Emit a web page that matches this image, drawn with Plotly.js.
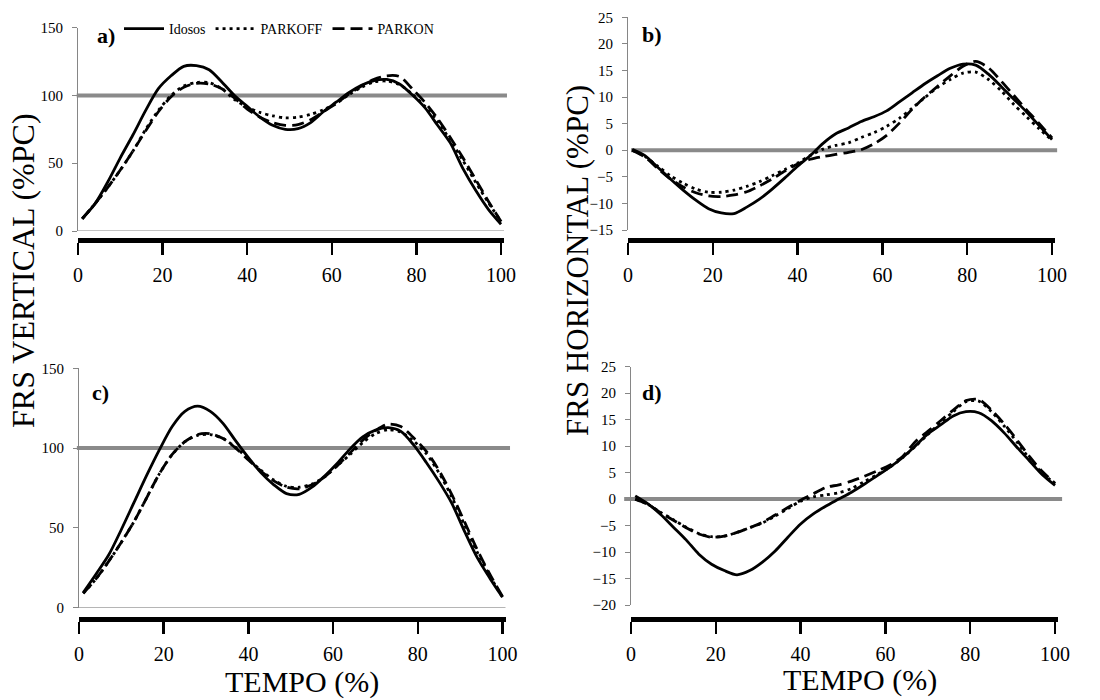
<!DOCTYPE html>
<html>
<head>
<meta charset="utf-8">
<script src="https://cdn.plot.ly/plotly-3.0.1.min.js"></script>
<style>html,body{margin:0;padding:0;background:#fff;}#chart{width:1100px;height:700px;}</style>
</head>
<body>
<div id="chart"></div>
<script>
// ---- data ----
const tempo = [1,4,7,10,13,16,19,22,25,28,31,34,37,40,43,46,49,52,55,58,61,64,67,70,73,76,79,82,85,88,91,94,97,100];
const xTicks = [0,20,40,60,80,100];
const seriesNames = ["Idosos","PARKOFF","PARKON"];

// a) vertical
const aIdosos  = [9.2,20,36,54,71,89,105,114.5,121.5,122,119,110,100,92,84,78,75,75.5,80,88,95,102,107.5,111,111.8,108.5,100.5,91,78,65,46,30,16,5];
const aParkOff = [9,20,32,45,59,75,89,100,107,109.5,109.5,105,97,91.5,87.5,85,83.5,84,86,89.5,94,100.5,106,110,110.6,108,101,92,81,67,52,36,21,7];
const aParkOn  = [9,20,32,45,59,74,88,99,106,109,108.5,105,98,90,84,80,78,78.5,82,88,94,101,107,112,114.5,114,105,95,83,69,54,38,22,7];
// b) horizontal
const bIdosos  = [0.2,-1,-3.2,-5.4,-7.5,-9.4,-11,-11.8,-11.9,-10.7,-9.2,-7.3,-5.2,-3,-1,1.3,3.1,4.2,5.4,6.3,7.4,9.1,10.8,12.5,14,15.4,16.2,16,14.3,12,9.6,7.2,4.6,2];
const bParkOff = [0,-1.2,-3,-4.8,-6.2,-7.3,-7.9,-7.9,-7.5,-6.8,-5.9,-4.8,-3.6,-2.4,-1,0.2,0.9,1.4,2.4,3.3,4.5,6,7.9,9.9,11.8,13.3,14.5,14.7,13.3,11.2,8.6,6.3,4,1.9];
const bParkOn  = [0,-1.3,-3.4,-5.4,-6.9,-8,-8.6,-8.7,-8.4,-7.8,-6.7,-5.4,-3.9,-2.6,-1.7,-1.2,-0.8,-0.4,0.1,1.2,2.8,5.1,7.7,10,12,14,15.8,16.7,15.5,13,10.3,7.6,5,2.3];
// c) vertical
const cIdosos  = [9.5,21,33,49,66,83,99,113.5,123,126.3,123,115.5,104.5,94,84.5,77,71.5,71,75.5,82.5,90.5,99.5,107,111.3,112.8,110.5,102,91,79,65.5,48,31.5,18.5,6.5];
const cParkOff = [9,18,29,41,54,69,84,96,104,108,108.5,106,100.5,93,86,80,76,75.5,77.5,82,89,96,103.5,109,111.5,110,104.5,96.5,84.5,69.5,52,35,20,6.5];
const cParkOn  = [9,18,29,41,54,69,84,96,104,108.5,109,106,100,92.5,85.5,79.5,75.5,74.5,77,82,89,97,105,111,115,113.5,106.5,98,86,71,54,36.5,21,7];
// d) horizontal
const dIdosos  = [0.6,-0.9,-2.9,-5.3,-7.7,-10.4,-12.3,-13.5,-14.3,-13.5,-11.9,-9.8,-7.2,-4.7,-2.8,-1.3,0,1.3,2.8,4.4,6,7.8,10,12.3,14,15.7,16.5,16.3,14.8,12.5,9.8,7.2,4.6,2.6];
const dParkOff = [0,-1,-2.5,-3.9,-5.3,-6.5,-7.1,-7,-6.3,-5.4,-4.5,-3.2,-1.8,-0.4,0.4,0.8,1.2,2,3.3,4.6,6,7.8,9.9,12.2,14.4,16.5,18.4,18.5,16.5,13.8,10.8,7.6,4.9,2.9];
const dParkOn  = [0,-1,-2.6,-4,-5.4,-6.6,-7.2,-7,-6.3,-5.4,-4.4,-3,-1.6,-0.2,1,2.2,2.7,3.4,4.3,5.3,6.4,8,10.8,12.8,14.8,16.8,18.6,18.8,16.8,14.2,11.2,8,5.2,3];

// reference levels (body weight line)
const refVertical = 100;
const refHorizontal = 0;

// ---- helpers ----
const W = 1100, H = 700;
const fx = p => p / W;
const fy = p => 1 - p / H;
const FONT = '"Liberation Serif", "DejaVu Serif", serif';
const GRAY = "#868686";
const REFGRAY = "#8a8a8a";

const styles = [
  {width: 2.8, dash: "solid"},
  {width: 2.8, dash: "3px,4px"},
  {width: 2.8, dash: "12px,6px"}
];

const panels = [
  {ys: [aIdosos, aParkOff, aParkOn], xa: "x",  ya: "y",  legend: true},
  {ys: [bIdosos, bParkOff, bParkOn], xa: "x2", ya: "y2", legend: false},
  {ys: [cIdosos, cParkOff, cParkOn], xa: "x3", ya: "y3", legend: false},
  {ys: [dIdosos, dParkOff, dParkOn], xa: "x4", ya: "y4", legend: false}
];

const traces = [];
panels.forEach(p => {
  p.ys.forEach((y, i) => {
    traces.push({
      type: "scatter", mode: "lines", x: tempo, y: y,
      xaxis: p.xa, yaxis: p.ya, name: seriesNames[i],
      showlegend: p.legend,
      line: {color: "#000", width: styles[i].width, dash: styles[i].dash, shape: "spline", smoothing: 0.8},
      hoverinfo: "x+y"
    });
  });
});

function xAxis(d0, d1, pos) {
  return {
    domain: [fx(d0), fx(d1)], range: [0, 100.7], anchor: "free", position: fy(pos),
    tickvals: xTicks, ticktext: xTicks.map(String),
    showline: true, linecolor: "#000", linewidth: 5,
    ticks: "outside", ticklen: 12, tickwidth: 2.5, tickcolor: "#000",
    showgrid: false, zeroline: false,
    tickfont: {family: FONT, size: 20, color: "#000"}, ticklabelstandoff: 3
  };
}
function yAxis(d0, d1, range, dtick, anchor) {
  return {
    domain: [fy(d0), fy(d1)], range: range, dtick: dtick, tick0: 0, anchor: anchor,
    showline: true, linecolor: GRAY, linewidth: 1,
    ticks: "outside", ticklen: 5, tickwidth: 1, tickcolor: GRAY,
    showgrid: false, zeroline: false,
    tickfont: {family: FONT, size: 15, color: "#000"}, ticklabelstandoff: 6
  };
}

function refLine(xref, yref, yv, x0, x1) {
  return {type: "line", xref: xref + " domain", yref: yref, x0: x0, x1: x1, y0: yv, y1: yv,
          line: {color: REFGRAY, width: 4}, layer: "below"};
}
function baseLine(xref, yref) {
  return {type: "line", xref: xref + " domain", yref: yref, x0: 0, x1: 1, y0: 0, y1: 0,
          line: {color: GRAY, width: 1}, layer: "below"};
}

const layout = {
  width: W, height: H,
  margin: {l: 0, r: 0, t: 0, b: 0},
  paper_bgcolor: "#fff", plot_bgcolor: "rgba(0,0,0,0)",
  font: {family: FONT, color: "#000"},
  showlegend: true,
  legend: {orientation: "h", x: fx(119), y: fy(13), xanchor: "left", yanchor: "top",
           font: {family: FONT, size: 14, color: "#000"}, bgcolor: "rgba(0,0,0,0)", itemwidth: 40,
           tracegroupgap: 0},
  xaxis:  xAxis(78, 504, 239.5),
  yaxis:  yAxis(231, 27.7, [0, 150], 50, "x"),
  xaxis2: xAxis(628, 1055, 239.5),
  yaxis2: yAxis(230, 17.3, [-15, 25], 5, "x2"),
  xaxis3: xAxis(79, 505.5, 619),
  yaxis3: yAxis(607.7, 368.3, [0, 150], 50, "x3"),
  xaxis4: xAxis(631, 1058, 619),
  yaxis4: yAxis(605, 366.7, [-20, 25], 5, "x4"),
  shapes: [
    baseLine("x", "y"), baseLine("x3", "y3"),
    refLine("x", "y", refVertical, -0.003, 1.007),
    refLine("x2", "y2", refHorizontal, 0.007, 1.005),
    refLine("x3", "y3", refVertical, -0.005, 1.0106),
    refLine("x4", "y4", refHorizontal, -0.016, 1.0096)
  ],
  annotations: [
    {text: "<b>a)</b>", x: fx(95), y: fy(35), xref: "paper", yref: "paper", xanchor: "left", yanchor: "middle", showarrow: false, font: {family: FONT, size: 22}},
    {text: "<b>b)</b>", x: fx(640), y: fy(34), xref: "paper", yref: "paper", xanchor: "left", yanchor: "middle", showarrow: false, font: {family: FONT, size: 22}},
    {text: "<b>c)</b>", x: fx(90), y: fy(392), xref: "paper", yref: "paper", xanchor: "left", yanchor: "middle", showarrow: false, font: {family: FONT, size: 22}},
    {text: "<b>d)</b>", x: fx(640), y: fy(392), xref: "paper", yref: "paper", xanchor: "left", yanchor: "middle", showarrow: false, font: {family: FONT, size: 22}},
    {text: "FRS VERTICAL (%PC)", textangle: -90, x: fx(23), y: fy(271), xref: "paper", yref: "paper", xanchor: "center", yanchor: "middle", showarrow: false, font: {family: FONT, size: 32}},
    {text: "FRS HORIZONTAL (%PC)", textangle: -90, x: fx(578), y: fy(261), xref: "paper", yref: "paper", xanchor: "center", yanchor: "middle", showarrow: false, font: {family: FONT, size: 31}},
    {text: "TEMPO (%)", x: fx(302), y: fy(682), xref: "paper", yref: "paper", xanchor: "center", yanchor: "middle", showarrow: false, font: {family: FONT, size: 30}},
    {text: "TEMPO (%)", x: fx(860), y: fy(680), xref: "paper", yref: "paper", xanchor: "center", yanchor: "middle", showarrow: false, font: {family: FONT, size: 30}}
  ]
};

Plotly.newPlot("chart", traces, layout, {displayModeBar: false, staticPlot: true});
</script>
</body>
</html>
